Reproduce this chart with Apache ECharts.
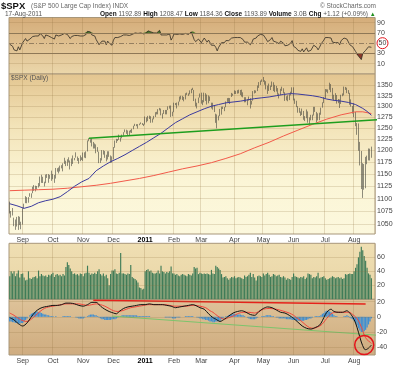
<!DOCTYPE html>
<html><head><meta charset="utf-8">
<script src="https://cdn.jsdelivr.net/npm/echarts@6/dist/echarts.min.js"></script>
<style>html,body{margin:0;padding:0;background:#fff}#c{width:400px;height:365px}</style>
</head><body><div id="c"></div>
<script>
// ---- trading days (categories) ----
const monthKeys = ['2010-08','2010-09','2010-10','2010-11','2010-12','2011-01','2011-02','2011-03','2011-04','2011-05','2011-06','2011-07','2011-08'];
const monthDays = [
 [19,20,23,24,25,26,27,30,31],
 [1,2,3,7,8,9,10,13,14,15,16,17,20,21,22,23,24,27,28,29,30],
 [1,4,5,6,7,8,11,12,13,14,15,18,19,20,21,22,25,26,27,28,29],
 [1,2,3,4,5,8,9,10,11,12,15,16,17,18,19,22,23,24,26,29,30],
 [1,2,3,6,7,8,9,10,13,14,15,16,17,20,21,22,23,27,28,29,30,31],
 [3,4,5,6,7,10,11,12,13,14,18,19,20,21,24,25,26,27,28,31],
 [1,2,3,4,7,8,9,10,11,14,15,16,17,18,22,23,24,25,28],
 [1,2,3,4,7,8,9,10,11,14,15,16,17,18,21,22,23,24,25,28,29,30,31],
 [1,4,5,6,7,8,11,12,13,14,15,18,19,20,21,25,26,27,28,29],
 [2,3,4,5,6,9,10,11,12,13,16,17,18,19,20,23,24,25,26,27,31],
 [1,2,3,6,7,8,9,10,13,14,15,16,17,20,21,22,23,24,27,28,29,30],
 [1,5,6,7,8,11,12,13,14,15,18,19,20,21,22,25,26,27,28,29],
 [1,2,3,4,5,8,9,10,11,12,15,16,17]
];
const monthNames = ['Jan','Feb','Mar','Apr','May','Jun','Jul','Aug','Sep','Oct','Nov','Dec'];
const padDays = 2;

// ---- daily price (OHLC) ----
const open = [
 1094.2,1075.6,1071.7,1067.4,1051.9,1055.3,1047.2,1064.6,1048.9,
 1049.3,1080.3,1090.1,1104.5,1091.8,1098.9,1104.2,1109.6,1121.9,1121.1,1125.1,1124.7,1125.6,1142.7,1139.8,1134.3,1124.8,1148.7,1142.2,1147.7,1144.7,
 1141.2,1146.2,1137.0,1160.8,1160.0,1158.1,1165.2,1165.3,1169.8,1178.1,1173.8,1176.2,1184.7,1165.9,1178.2,1180.3,1183.1,1185.6,1185.6,1182.5,1183.8,
 1183.3,1184.4,1193.6,1198.0,1221.1,1225.9,1223.3,1213.4,1218.7,1213.5,1199.2,1197.8,1178.3,1178.6,1196.7,1199.7,1197.8,1180.7,1198.4,1189.4,1187.8,
 1180.6,1206.1,1221.5,1224.7,1223.1,1223.8,1228.3,1233.0,1240.4,1240.5,1241.6,1235.2,1242.9,1243.9,1247.1,1254.6,1258.8,1256.8,1257.5,1258.5,1259.8,1257.9,
 1257.6,1271.9,1270.2,1276.6,1273.9,1271.5,1269.8,1274.5,1286.0,1283.8,1293.2,1295.0,1281.9,1280.3,1283.4,1290.8,1291.2,1296.6,1299.5,1276.3,
 1286.1,1307.6,1304.0,1307.1,1310.9,1319.1,1324.6,1320.9,1321.9,1329.2,1332.3,1328.0,1336.3,1340.4,1343.0,1315.4,1307.4,1306.1,1319.9,
 1327.2,1306.3,1308.4,1331.0,1321.2,1310.1,1321.8,1320.0,1295.1,1304.3,1296.4,1281.9,1256.9,1273.7,1279.2,1298.4,1293.8,1297.5,1309.7,1313.8,1310.2,1319.4,1328.3,
 1325.8,1332.4,1332.9,1332.6,1335.5,1333.5,1328.2,1324.5,1314.2,1314.4,1314.5,1319.7,1305.1,1312.6,1330.4,1337.4,1335.3,1347.2,1355.7,1360.5,
 1363.6,1361.2,1356.6,1347.3,1335.1,1340.2,1346.3,1357.2,1342.1,1348.7,1337.8,1329.5,1329.0,1340.7,1343.6,1333.3,1317.4,1316.3,1320.5,1325.7,1331.1,
 1345.2,1314.6,1312.9,1300.2,1286.2,1284.9,1279.6,1289.0,1271.0,1271.8,1287.9,1265.4,1267.6,1271.5,1278.4,1295.5,1287.1,1283.5,1268.5,1280.1,1296.7,1307.4,
 1320.6,1339.7,1337.9,1339.2,1353.2,1343.8,1319.5,1313.6,1317.7,1308.9,1316.1,1305.4,1326.7,1325.8,1343.8,1345.0,1337.4,1331.9,1304.9,1300.7,
 1292.3,1286.9,1254.1,1260.3,1200.1,1199.4,1119.5,1172.5,1120.8,1172.6,1178.8,1204.5,1192.9
];
const close = [
 1075.6,1071.7,1067.4,1051.9,1055.3,1047.2,1064.6,1048.9,1049.3,
 1080.3,1090.1,1104.5,1091.8,1098.9,1104.2,1109.6,1121.9,1121.1,1125.1,1124.7,1125.6,1142.7,1139.8,1134.3,1124.8,1148.7,1142.2,1147.7,1144.7,1141.2,
 1146.2,1137.0,1160.8,1160.0,1158.1,1165.2,1165.3,1169.8,1178.1,1173.8,1176.2,1184.7,1165.9,1178.2,1180.3,1183.1,1185.6,1185.6,1182.5,1183.8,1183.3,
 1184.4,1193.6,1198.0,1221.1,1225.9,1223.3,1213.4,1218.7,1213.5,1199.2,1197.8,1178.3,1178.6,1196.7,1199.7,1197.8,1180.7,1198.4,1189.4,1187.8,1180.6,
 1206.1,1221.5,1224.7,1223.1,1223.8,1228.3,1233.0,1240.4,1240.5,1241.6,1235.2,1242.9,1243.9,1247.1,1254.6,1258.8,1256.8,1257.5,1258.5,1259.8,1257.9,1257.6,
 1271.9,1270.2,1276.6,1273.9,1271.5,1269.8,1274.5,1286.0,1283.8,1293.2,1295.0,1281.9,1280.3,1283.4,1290.8,1291.2,1296.6,1299.5,1276.3,1286.1,
 1307.6,1304.0,1307.1,1310.9,1319.1,1324.6,1320.9,1321.9,1329.2,1332.3,1328.0,1336.3,1340.4,1343.0,1315.4,1307.4,1306.1,1319.9,1327.2,
 1306.3,1308.4,1331.0,1321.2,1310.1,1321.8,1320.0,1295.1,1304.3,1296.4,1281.9,1256.9,1273.7,1279.2,1298.4,1293.8,1297.5,1309.7,1313.8,1310.2,1319.4,1328.3,1325.8,
 1332.4,1332.9,1332.6,1335.5,1333.5,1328.2,1324.5,1314.2,1314.4,1314.5,1319.7,1305.1,1312.6,1330.4,1337.4,1335.3,1347.2,1355.7,1360.5,1363.6,
 1361.2,1356.6,1347.3,1335.1,1340.2,1346.3,1357.2,1342.1,1348.7,1337.8,1329.5,1329.0,1340.7,1343.6,1333.3,1317.4,1316.3,1320.5,1325.7,1331.1,1345.2,
 1314.6,1312.9,1300.2,1286.2,1284.9,1279.6,1289.0,1271.0,1271.8,1287.9,1265.4,1267.6,1271.5,1278.4,1295.5,1287.1,1283.5,1268.5,1280.1,1296.7,1307.4,1320.6,
 1339.7,1337.9,1339.2,1353.2,1343.8,1319.5,1313.6,1317.7,1308.9,1316.1,1305.4,1326.7,1325.8,1343.8,1345.0,1337.4,1331.9,1304.9,1300.7,1292.3,
 1286.9,1254.1,1260.3,1200.1,1199.4,1119.5,1172.5,1120.8,1172.6,1178.8,1204.5,1192.8,1193.9
];
const high = [
 1094.2,1075.6,1081.6,1063.0,1059.4,1064.4,1065.9,1064.6,1055.1,
 1081.3,1090.1,1105.1,1103.1,1103.1,1110.9,1110.6,1123.9,1127.4,1126.1,1125.5,1131.5,1144.9,1148.6,1144.4,1134.3,1148.9,1149.9,1150.0,1148.3,1157.2,
 1150.3,1148.2,1162.8,1162.3,1163.9,1167.7,1168.7,1172.6,1184.4,1178.1,1181.2,1185.5,1178.6,1182.9,1189.4,1184.0,1196.1,1187.1,1183.8,1189.5,1185.5,
 1195.8,1196.1,1198.3,1222.1,1227.1,1224.6,1226.8,1218.8,1215.5,1213.4,1207.4,1197.8,1183.6,1200.9,1200.6,1198.9,1190.9,1198.4,1198.4,1189.4,1187.4,
 1207.6,1221.9,1225.6,1225.3,1235.0,1228.9,1235.1,1240.4,1246.7,1246.1,1244.3,1243.7,1245.6,1248.1,1255.0,1259.4,1258.6,1258.6,1259.9,1262.6,1261.1,1259.3,
 1276.2,1274.1,1277.6,1278.2,1276.8,1271.5,1277.6,1286.1,1287.0,1293.2,1296.1,1294.6,1283.3,1291.2,1291.3,1291.3,1299.7,1301.3,1301.7,1287.2,
 1308.4,1307.6,1308.6,1311.0,1322.9,1324.9,1324.6,1322.1,1330.8,1332.4,1330.6,1337.8,1341.5,1344.1,1338.9,1317.9,1308.3,1320.6,1330.3,
 1332.3,1314.4,1332.3,1331.1,1327.7,1325.7,1323.2,1308.4,1308.3,1301.2,1282.6,1280.9,1278.2,1293.8,1299.0,1299.2,1298.4,1311.3,1319.2,1319.7,1319.4,1331.7,1329.8,
 1337.9,1336.7,1338.2,1339.5,1338.8,1339.5,1333.2,1321.4,1321.4,1316.8,1322.9,1319.1,1312.9,1336.1,1338.2,1337.5,1349.6,1358.0,1361.7,1364.6,
 1370.6,1362.6,1360.2,1349.4,1354.4,1349.4,1359.4,1357.5,1351.2,1348.7,1343.3,1330.4,1341.7,1346.8,1342.9,1333.3,1323.7,1325.9,1328.5,1334.6,1345.2,
 1345.2,1318.0,1312.9,1300.2,1296.2,1287.9,1294.5,1289.0,1277.0,1292.5,1287.9,1274.1,1280.0,1280.4,1298.6,1298.6,1286.8,1283.5,1284.9,1296.7,1309.2,1322.0,
 1341.0,1340.5,1340.1,1356.5,1353.2,1343.8,1327.2,1331.1,1326.7,1317.1,1316.1,1327.2,1330.4,1347.0,1346.1,1344.3,1338.5,1331.9,1316.3,1300.7,
 1307.4,1286.6,1261.1,1260.3,1218.9,1199.0,1172.9,1171.1,1186.3,1189.0,1204.5,1204.0,1208.5
];
const low = [
 1071.0,1063.0,1067.0,1046.7,1039.8,1046.0,1039.7,1048.8,1040.9,
 1049.7,1080.3,1091.2,1091.0,1092.0,1103.9,1101.7,1110.9,1115.6,1114.6,1118.9,1122.4,1125.2,1131.9,1131.6,1124.6,1131.3,1142.0,1132.1,1140.3,1136.1,
 1139.4,1131.9,1140.7,1154.9,1151.4,1155.5,1162.0,1155.7,1171.3,1166.7,1167.1,1174.6,1159.7,1166.7,1171.2,1179.0,1184.7,1177.7,1171.7,1177.1,1179.7,
 1177.7,1184.7,1183.6,1198.0,1220.3,1217.2,1208.9,1204.3,1204.5,1194.1,1197.2,1173.0,1173.5,1178.6,1191.3,1184.3,1176.7,1180.7,1186.4,1173.6,1174.1,
 1181.0,1206.1,1216.6,1220.7,1223.3,1219.5,1226.8,1232.6,1240.3,1236.8,1234.0,1232.9,1239.7,1238.7,1247.1,1254.2,1254.0,1248.6,1256.2,1258.6,1256.8,1254.2,
 1257.6,1262.7,1265.4,1270.4,1261.7,1262.2,1269.6,1275.0,1280.9,1281.1,1290.2,1278.9,1271.3,1282.0,1281.1,1281.1,1291.0,1294.4,1275.1,1276.6,
 1286.1,1302.6,1294.8,1301.7,1311.0,1316.0,1314.9,1311.6,1316.1,1326.9,1324.6,1328.1,1331.0,1338.8,1312.3,1299.6,1294.8,1307.3,1320.6,
 1306.1,1302.6,1309.2,1312.6,1304.0,1306.9,1312.3,1294.8,1292.0,1286.4,1261.6,1249.1,1267.2,1276.8,1280.4,1293.5,1288.5,1297.7,1310.2,1310.2,1305.3,1321.9,1325.0,
 1328.9,1329.1,1330.0,1330.7,1326.6,1322.9,1321.1,1309.2,1309.5,1302.4,1313.5,1294.7,1304.0,1313.1,1330.4,1331.9,1336.1,1343.9,1351.0,1358.7,
 1358.6,1351.6,1340.2,1329.2,1336.4,1338.6,1346.3,1336.4,1333.6,1335.1,1327.3,1318.5,1326.6,1336.7,1330.5,1312.6,1313.9,1311.8,1314.6,1325.8,1331.1,
 1313.7,1305.6,1297.9,1284.9,1284.7,1277.4,1279.6,1268.6,1265.6,1272.2,1261.9,1258.1,1267.4,1267.6,1278.4,1286.8,1262.7,1267.2,1267.5,1280.1,1296.7,1307.4,
 1318.3,1334.3,1330.9,1339.2,1333.4,1316.4,1313.3,1314.3,1306.2,1307.3,1295.9,1305.4,1323.7,1325.8,1339.0,1331.1,1329.6,1303.5,1299.2,1282.9,
 1274.7,1254.0,1234.6,1199.5,1168.1,1119.3,1101.5,1118.0,1121.0,1170.7,1178.8,1178.6,1184.4
];
// moving averages: [dayIndex, value]
const ma50 = [[0,1090],[5,1086],[10,1081],[15,1085],[20,1092],[25,1096],[30,1099],[35,1104],[40,1114],[45,1125],[50,1134],[55,1141],[60,1157],[65,1167],[70,1176],[75,1183],[80,1191],[85,1200],[90,1209],[95,1218],[100,1228],[105,1238],[110,1250],[115,1262],[120,1271],[125,1280],[130,1287],[135,1294],[140,1300],[145,1304],[150,1308],[155,1310],[160,1312],[165,1315],[170,1318],[175,1320],[180,1322],[185,1325],[190,1328],[195,1330],[200,1329],[205,1327],[210,1325],[215,1322],[220,1317],[225,1314],[230,1312],[235,1309],[240,1304],[245,1295],[248,1288],[251,1279]];
const ma200 = [[0,1116],[10,1117],[20,1118],[30,1119],[40,1121],[50,1124],[60,1127],[70,1131],[80,1136],[90,1141],[100,1147],[110,1154],[120,1161],[130,1167],[140,1174],[150,1183],[160,1193],[170,1206],[180,1218],[190,1232],[200,1245],[210,1258],[220,1270],[230,1280],[240,1287],[245,1287],[251,1283]];
const priceTrend = [[55,1227],[271,1272]];
const priceTicks = [1050,1075,1100,1125,1150,1175,1200,1225,1250,1275,1300,1325,1350];

// ---- volume (x100M) ----
const volume = [
 33,40,37,40,33,37,41,31,36,
 37,31,27,28,40,30,29,31,32,33,30,41,33,36,34,33,34,32,35,34,36,
 38,32,35,36,34,35,33,36,34,46,53,49,44,40,36,37,35,36,34,37,36,
 33,37,38,48,38,35,37,36,38,36,40,43,36,34,37,33,35,30,20,36,41,
 41,43,37,36,38,66,37,37,36,35,37,36,49,32,30,29,27,24,17,16,14,15,
 40,42,43,40,41,38,37,37,38,41,37,48,40,39,37,39,38,40,47,37,
 37,35,36,34,33,35,36,35,34,33,36,35,34,37,46,44,45,36,38,
 37,36,37,36,37,36,35,42,37,36,48,46,44,42,36,31,32,33,30,28,30,32,31,
 33,30,31,32,31,30,29,34,32,33,35,38,32,36,31,27,33,34,33,32,
 37,34,36,38,35,32,33,36,35,33,34,35,32,31,33,31,28,30,29,28,32,
 37,33,32,31,30,32,31,33,29,31,37,36,35,30,32,31,33,38,30,31,32,33,
 30,28,29,30,31,33,32,30,31,32,30,31,29,30,36,35,36,37,36,36,
 40,45,50,60,68,75,70,62,55,45,37,35,30
];
const volTicks = [20,40,60];

// ---- RSI(14) ----
const rsi = [
 48,46,44,37,39,35,43,37,37,
 51,54,59,54,56,58,59,63,63,64,64,64,69,67,64,59,66,63,64,63,61,
 63,58,66,65,64,66,66,67,69,66,67,69,59,63,64,65,65,65,63,64,63,
 64,66,67,73,74,72,66,67,64,57,56,47,47,54,55,54,47,54,50,49,46,
 56,61,62,61,61,63,64,66,66,66,63,65,66,67,69,70,68,69,69,70,68,68,
 71,70,74,73,72,69,70,71,70,73,75,66,65,66,67,66,67,68,56,61,
 68,66,67,68,68,69,67,67,69,70,67,70,72,73,57,53,52,58,61,
 51,52,60,56,52,56,55,46,49,46,42,35,42,44,51,49,51,55,56,55,58,60,59,
 61,61,61,62,61,58,57,52,52,52,54,47,51,58,61,60,64,66,67,68,
 66,63,58,53,55,57,61,54,57,52,49,49,54,55,50,45,44,46,48,50,55,
 44,43,40,36,36,34,39,33,34,41,34,35,36,39,46,43,42,37,42,48,52,56,
 61,60,61,64,60,52,50,51,48,51,47,55,55,60,61,58,56,47,46,43,
 42,34,36,25,25,18,30,27,36,38,43,41,42
];
const rsiTicks = [10,30,50,70,90];

// ---- MACD(12,26,9) ----
const macdLine = [[0,-1],[3,-4],[6,-9],[9,-12],[12,-8],[15,0],[18,7],[21,11],[24,13],[27,14],[30,15],[33,15],[36,16],[39,18],[42,18],[45,17],[48,15],[51,14],[54,16],[57,19],[60,19],[63,14],[66,10],[69,7],[72,5],[74,4],[76,7],[79,11],[82,13],[85,14],[88,15],[91,16],[94,16],[97,17],[100,16],[103,16],[106,16],[109,15],[112,14],[115,12],[118,13],[121,14],[124,15],[127,16],[130,14],[132,12],[135,10],[138,4],[141,-1],[143,-3],[146,-6],[149,-3],[152,1],[155,5],[158,7],[161,8],[164,6],[167,3],[170,2],[173,7],[176,11],[179,13],[182,12],[185,9],[188,6],[191,5],[194,2],[197,-2],[200,-7],[203,-12],[206,-15],[209,-16],[212,-14],[215,-11],[217,-5],[219,3],[221,8],[223,10],[225,7],[228,6],[231,6],[234,8],[236,5],[238,0],[240,-8],[242,-20],[244,-33],[246,-42],[247,-43],[249,-41],[251,-37]];
const signalLine = [[0,5],[3,2],[6,-2],[9,-5],[12,-6],[15,-3],[18,2],[21,7],[24,11],[27,13],[30,14],[33,15],[36,16],[39,17],[42,17],[45,17],[48,17],[51,16],[54,15],[57,16],[60,17],[63,16],[66,14],[69,11],[72,8],[75,7],[78,8],[81,10],[84,12],[87,13],[90,14],[93,15],[96,16],[99,16],[102,16],[105,16],[108,16],[111,15],[114,14],[117,14],[120,14],[123,14],[126,15],[129,15],[132,14],[136,12],[139,8],[141,6],[143,3],[146,-1],[149,-3],[152,-1],[155,1],[158,4],[162,6],[166,6],[170,5],[173,7],[176,10],[180,11],[185,10],[189,8],[194,5],[197,2],[199,-1],[202,-5],[205,-10],[208,-14],[211,-15],[214,-13],[216,-11],[218,-7],[220,-2],[223,4],[226,6],[231,6],[236,6],[238,3],[240,0],[242,-5],[243,-9],[245,-18],[246,-24],[248,-30],[250,-33],[251,-35]];
const macdHist = [
 -6,-6,-7,-7,-8,-8,-9,-9,-8,
 -8,-6,-4,-2,0,2,4,5,6,7,7,6,6,5,4,3,3,2,2,1,1,
 1,0,1,0,0,0,0,1,1,1,1,1,1,0,0,0,-1,-1,-2,-2,-2,
 -2,-1,0,1,2,3,3,3,2,2,1,-1,-2,-3,-3,-4,-4,-4,-4,-4,-3,
 -3,-3,-2,-1,0,1,2,2,2,2,2,2,2,2,2,2,2,1,1,1,1,1,
 1,1,1,1,0,0,0,0,0,0,0,0,0,0,-1,-1,-1,-1,-1,-2,
 -2,-2,-1,-1,-1,0,0,0,1,1,1,1,1,1,0,0,-1,-1,-2,
 -2,-3,-3,-4,-4,-5,-6,-6,-7,-7,-6,-6,-5,-5,-3,-2,0,1,1,2,3,3,4,
 4,3,3,3,3,2,2,1,0,-1,-2,-3,-3,-3,-3,-2,-1,0,0,1,
 1,1,2,2,2,2,1,1,0,-1,-1,-2,-2,-2,-2,-2,-3,-3,-3,-3,-4,
 -4,-4,-5,-5,-5,-5,-5,-5,-4,-4,-3,-2,-2,-1,0,1,1,1,1,2,4,5,
 7,8,8,7,6,4,2,1,1,0,0,0,0,1,1,2,1,-1,-2,-3,
 -5,-8,-11,-15,-18,-20,-20,-19,-17,-14,-10,-6,-2
];
const macdTicks = [-40,-20,0,20];
const macdRedTrend = [[58,21.7],[247,16.8]];
const macdGreenTrend = [[71,1],[269,-26]];

// ---- header text ----
const hdrLabels = ['Open','High','Low','Close','Volume','Chg'];
const hdrValues = ['1192.89','1208.47','1184.36','1193.89','3.0B','+1.12 (+0.09%)'];

// ---- build categories ----
const dates = [];
const monthStart = new Set();
monthKeys.forEach((k, mi) => {
  monthDays[mi].forEach((d, di) => {
    if (di === 0 && mi > 0) monthStart.add(dates.length);
    dates.push(k + '-' + String(d).padStart(2, '0'));
  });
});
for (let i = 0; i < padDays; i++) dates.push('');
const nCat = dates.length;
const isStart = (idx) => monthStart.has(idx);
const fmtMonth = (v) => {
  if (!v) return '';
  const m = +v.slice(5, 7);
  return m === 1 ? '{y|' + v.slice(0, 4) + '}' : monthNames[m - 1];
};

const grad = (stops) => new echarts.graphic.LinearGradient(0, 0, 0, 1,
  stops.map((c, i) => ({ offset: i / (stops.length - 1), color: c })));
const L = 9, R = 25, BORDER = '#a8977a';
const grids = [
  { left: L, right: R, top: 17.5, height: 56.5, show: true, borderColor: BORDER, borderWidth: 1, backgroundColor: grad(['#d4ac79', '#e0c191', '#ebd7ab']) },
  { left: L, right: R, top: 74, height: 160, show: true, borderColor: BORDER, borderWidth: 1, backgroundColor: grad(['#e3c590', '#f3e4b9', '#fbf5d6', '#fcf8dd']) },
  { left: L, right: R, top: 243.3, height: 56, show: true, borderColor: BORDER, borderWidth: 1, backgroundColor: grad(['#efdfb3', '#e9d4a5']) },
  { left: L, right: R, top: 299.3, height: 56.7, show: true, borderColor: BORDER, borderWidth: 1, backgroundColor: grad(['#dec39a', '#d6b78b', '#cfac80']) }
];
const xa = (gi, showLabels) => ({
  type: 'category', gridIndex: gi, data: dates, boundaryGap: true,
  axisLine: { show: false }, axisTick: { show: false },
  splitLine: { show: true, interval: isStart, lineStyle: { color: 'rgba(140,110,60,0.22)', width: 1 } },
  axisLabel: { show: showLabels, interval: isStart, formatter: fmtMonth, fontSize: 7, color: '#444', margin: 3,
    fontFamily: 'Liberation Sans', rich: { y: { fontWeight: 'bold', color: '#000', fontSize: 7, fontFamily: 'Liberation Sans' } } }
});
// hidden index axes (same day mapping) for annotation lines that run past the plot edge
const xIdx = (gi) => ({ type: 'value', gridIndex: gi, min: -0.5, max: nCat - 0.5, show: false });
const yBase = { position: 'right', axisLine: { show: false }, axisTick: { show: false }, splitLine: { show: false } };
const lblStyle = { fontSize: 7, color: '#444', margin: 2, fontFamily: 'Liberation Sans' };
const faint = 'rgba(140,110,60,0.2)';
const hLines = (vals, color, type) => vals.map(v => ({ yAxis: v, lineStyle: { color: color, width: 1, type: type || 'solid' } }));
const ml = (data) => ({ symbol: ['none', 'none'], silent: true, label: { show: false }, animation: false, data: data });

const hdrText = hdrLabels.map((l, i) => '{b|' + l + '} ' + hdrValues[i]).join(' ') + ' {u|▲}';

const option = {
  animation: false,
  backgroundColor: '#fff',
  title: [
    { text: '$SPX', left: 1, top: 1, padding: 0, textStyle: { fontSize: 9.5, fontWeight: 'bold', color: '#111', fontFamily: 'Liberation Sans' } },
    { text: '(S&P 500 Large Cap Index) INDX', left: 31, top: 3, padding: 0, textStyle: { fontSize: 6.5, fontWeight: 'normal', color: '#666', fontFamily: 'Liberation Sans' } },
    { text: '© StockCharts.com', right: 24, top: 3, padding: 0, textStyle: { fontSize: 6.5, fontWeight: 'normal', color: '#666', fontFamily: 'Liberation Sans' } },
    { text: '17-Aug-2011', left: 5, top: 11, padding: 0, textStyle: { fontSize: 6.5, fontWeight: 'normal', color: '#555', fontFamily: 'Liberation Sans' } },
    { text: hdrText, left: 100, top: 11, padding: 0, textStyle: { fontSize: 6.5, fontWeight: 'normal', color: '#555', fontFamily: 'Liberation Sans',
      rich: { b: { fontWeight: 'bold', color: '#111', fontSize: 6.5, fontFamily: 'Liberation Sans' }, u: { color: '#1f8f1f', fontSize: 6 } } } },
    { text: '$SPX (Daily)', left: 11, top: 75, padding: 0, textStyle: { fontSize: 6.5, fontWeight: 'normal', color: '#555', fontFamily: 'Liberation Sans' } }
  ],
  grid: grids,
  xAxis: [xa(0, false), xa(1, true), xa(2, false), xa(3, true), xIdx(1), xIdx(3)],
  yAxis: [
    Object.assign({}, yBase, { gridIndex: 0, type: 'value', min: -10, max: 100, interval: 10,
      axisLabel: Object.assign({}, lblStyle, {
        formatter: v => v === 50 ? '{c|50}' : (rsiTicks.includes(v) ? String(v) : ''),
        rich: { c: { borderColor: '#e3141b', borderWidth: 1, borderRadius: 6, width: 11, height: 11, lineHeight: 11, align: 'center', fontSize: 7, color: '#444' } } }) }),
    Object.assign({}, yBase, { gridIndex: 1, type: 'log', logBase: 10, min: 1032, max: 1378,
      axisTick: { show: false, customValues: priceTicks },
      splitLine: { show: true, lineStyle: { color: faint, width: 1 } },
      axisLabel: Object.assign({}, lblStyle, { customValues: priceTicks, formatter: v => String(Math.round(v)) }) }),
    Object.assign({}, yBase, { gridIndex: 2, type: 'value', min: 0, max: 80, interval: 20,
      axisLabel: Object.assign({}, lblStyle, { formatter: v => volTicks.includes(v) ? String(v) : '' }) }),
    Object.assign({}, yBase, { gridIndex: 3, type: 'value', min: -50, max: 23, interval: 10,
      axisLabel: Object.assign({}, lblStyle, { formatter: v => macdTicks.includes(v) ? String(v) : '' }) })
  ],
  series: [
    // RSI
    { type: 'line', xAxisIndex: 0, yAxisIndex: 0, data: rsi.map(v => Math.max(v, 70)), symbol: 'none', silent: true,
      lineStyle: { opacity: 0 }, areaStyle: { origin: 70, color: '#4f7a2c', opacity: 1 } },
    { type: 'line', xAxisIndex: 0, yAxisIndex: 0, data: rsi.map(v => Math.min(v, 30)), symbol: 'none', silent: true,
      lineStyle: { opacity: 0 }, areaStyle: { origin: 30, color: '#8c3a2a', opacity: 1 } },
    { type: 'line', xAxisIndex: 0, yAxisIndex: 0, data: rsi, symbol: 'none', silent: true,
      lineStyle: { color: '#2e2a22', width: 0.8 },
      markLine: ml([].concat(hLines([10, 90], faint), hLines([30, 70], '#8e7857'), hLines([50], '#957f60', [5, 2, 1, 2]))) },
    // Price
    { type: 'candlestick', xAxisIndex: 1, yAxisIndex: 1, barWidth: 1.3, silent: true,
      data: close.map((c, i) => [open[i], c, low[i], high[i]]),
      itemStyle: { color: '#b4b19f', color0: '#8f8c7c', borderColor: '#45453c', borderColor0: '#45453c', borderColorDoji: '#45453c', borderWidth: 0.6 } },
    { type: 'line', xAxisIndex: 1, yAxisIndex: 1, data: ma200, symbol: 'none', silent: true, lineStyle: { color: '#f25a4a', width: 1 } },
    { type: 'line', xAxisIndex: 1, yAxisIndex: 1, data: ma50, symbol: 'none', silent: true, lineStyle: { color: '#3b3a9e', width: 1 } },
    { type: 'line', xAxisIndex: 4, yAxisIndex: 1, data: priceTrend, symbol: 'none', silent: true, clip: false, z: 5, lineStyle: { color: '#1e9e1e', width: 1.5 } },
    // Volume
    { type: 'bar', xAxisIndex: 2, yAxisIndex: 2, data: volume, barWidth: '80%', silent: true,
      itemStyle: { color: '#3f7c58' },
      markLine: ml(hLines(volTicks, faint)) },
    // MACD
    { type: 'bar', xAxisIndex: 3, yAxisIndex: 3, data: macdHist, barWidth: '90%', silent: true,
      itemStyle: { color: '#3f8fd2' },
      markLine: ml(hLines(macdTicks, faint)) },
    { type: 'line', xAxisIndex: 5, yAxisIndex: 3, data: macdGreenTrend, symbol: 'none', silent: true, clip: false, lineStyle: { color: '#7cc46c', width: 1 } },
    { type: 'line', xAxisIndex: 3, yAxisIndex: 3, data: macdRedTrend, symbol: 'none', silent: true, lineStyle: { color: '#e5221b', width: 1.5 } },
    { type: 'line', xAxisIndex: 3, yAxisIndex: 3, data: signalLine, symbol: 'none', silent: true, smooth: 0.3, lineStyle: { color: '#f2473d', width: 1 } },
    { type: 'line', xAxisIndex: 3, yAxisIndex: 3, data: macdLine, symbol: 'none', silent: true, smooth: 0.3, lineStyle: { color: '#111', width: 1 },
      markPoint: { symbol: 'circle', symbolSize: 19, silent: true, label: { show: false },
        itemStyle: { color: 'rgba(0,0,0,0)', borderColor: '#e3141b', borderWidth: 1.5 },
        data: [{ coord: [246, -37] }] } }
  ]
};
const chart = echarts.init(document.getElementById('c'), null, { renderer: 'canvas', width: 400, height: 365 });
chart.setOption(option);
</script>
</body></html>
